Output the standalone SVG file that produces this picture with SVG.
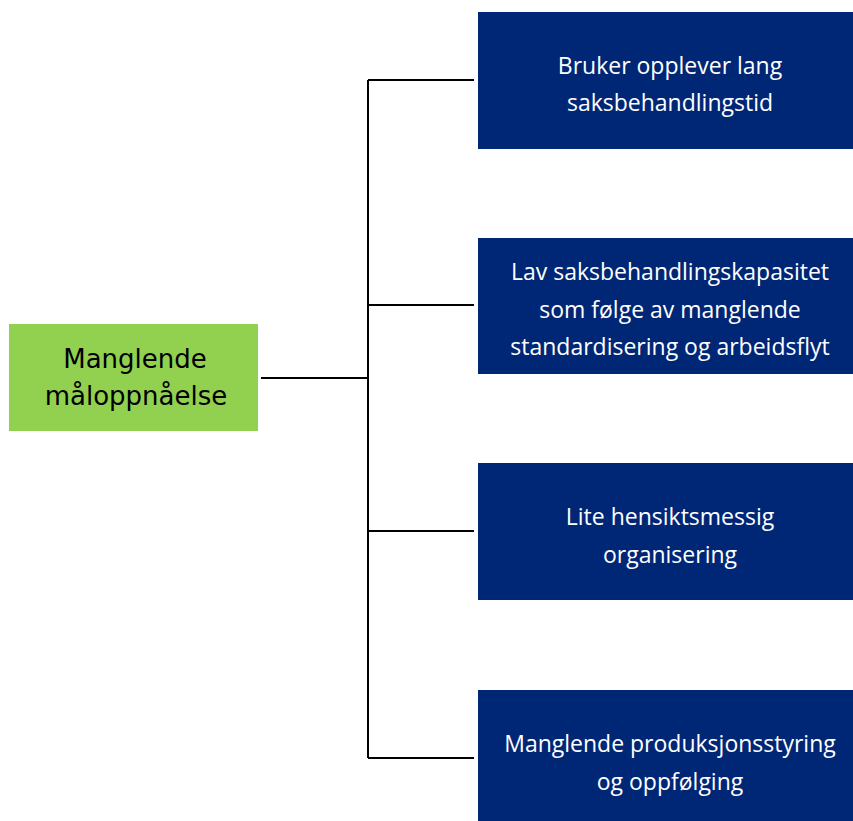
<svg xmlns="http://www.w3.org/2000/svg" width="853" height="821" viewBox="0 0 853 821">
<style>
.blue{fill:#002776}
.green{fill:#92D050}
.bt{font-family:"Open Sans","Liberation Sans",sans-serif;font-size:23px;fill:#ffffff;text-anchor:middle}
.gt{font-family:"DejaVu Sans","Verdana",sans-serif;font-size:26px;fill:#000000;text-anchor:middle}
.conn{fill:none;stroke:#000000;stroke-width:2}
</style>
<rect width="853" height="821" fill="#ffffff"/>
<g id="connectors">
<path class="conn" d="M261 378 H368"/>
<path class="conn" d="M368 80 V758"/>
<path class="conn" d="M368 80 H474"/>
<path class="conn" d="M368 305 H474"/>
<path class="conn" d="M368 531 H474"/>
<path class="conn" d="M368 758 H474"/>
</g>
<g id="root">
<rect class="green" x="9" y="324" width="249" height="107"/>
<text class="gt" x="135" y="368">Manglende</text>
<text class="gt" x="136" y="405">måloppnåelse</text>
</g>
<g id="n1">
<rect class="blue" x="478" y="12" width="375" height="137"/>
<text class="bt" x="670" y="74">Bruker opplever lang</text>
<text class="bt" x="670" y="111">saksbehandlingstid</text>
</g>
<g id="n2">
<rect class="blue" x="478" y="238" width="375" height="136"/>
<text class="bt" x="670" y="280">Lav saksbehandlingskapasitet</text>
<text class="bt" x="670" y="318">som følge av manglende</text>
<text class="bt" x="670" y="355">standardisering og arbeidsflyt</text>
</g>
<g id="n3">
<rect class="blue" x="478" y="463" width="375" height="137"/>
<text class="bt" x="670" y="525">Lite hensiktsmessig</text>
<text class="bt" x="670" y="563">organisering</text>
</g>
<g id="n4">
<rect class="blue" x="478" y="690" width="375" height="131"/>
<text class="bt" x="670" y="752">Manglende produksjonsstyring</text>
<text class="bt" x="670" y="790">og oppfølging</text>
</g>
</svg>
